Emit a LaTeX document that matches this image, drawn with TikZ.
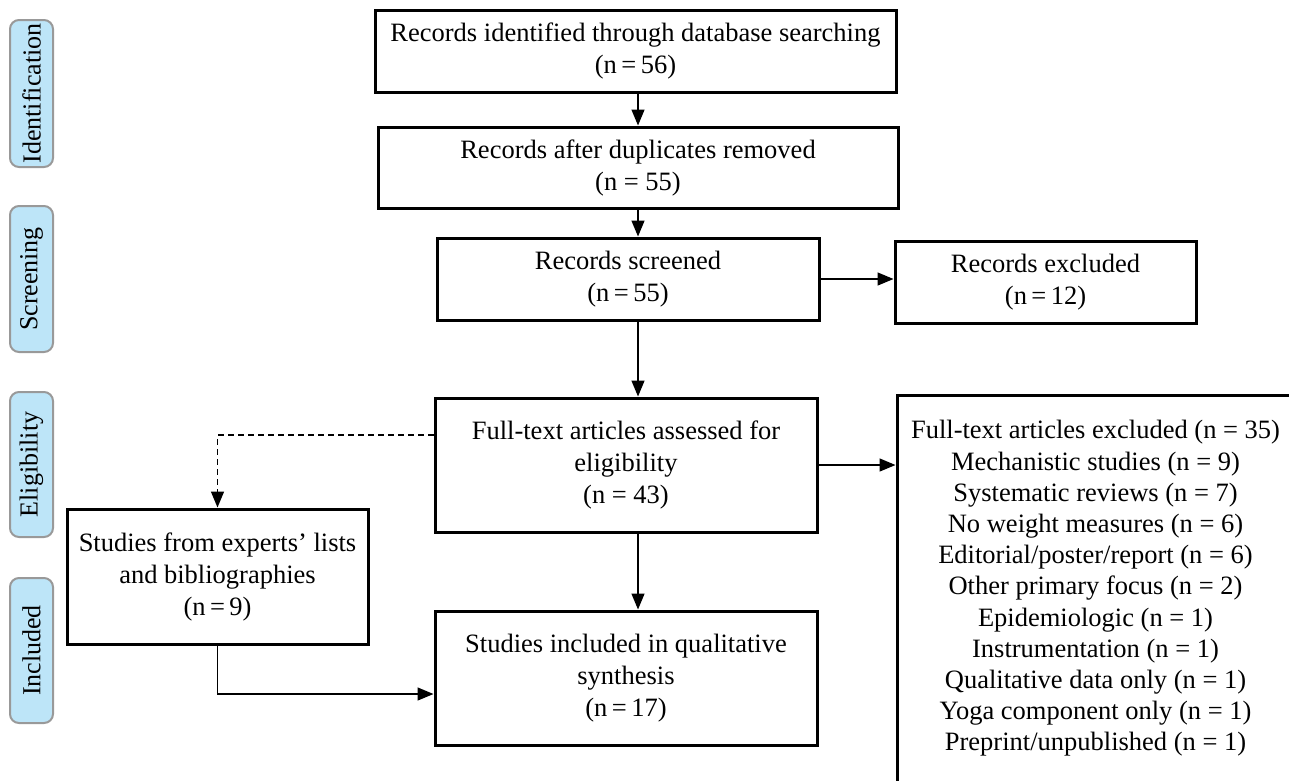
\documentclass[tikz,border=0pt]{standalone}
\usepackage{fontspec}
\setmainfont{Liberation Serif}
\usetikzlibrary{arrows.meta}
\definecolor{tagfill}{HTML}{BDE5F8}
\definecolor{tagline}{HTML}{999999}

\begin{document}
\begin{tikzpicture}[x=1pt,y=-1pt,
  box/.style={draw, line width=3pt, align=center, inner sep=0pt, font=\fontsize{26.5}{32}\selectfont},
  tag/.style={draw=tagline, fill=tagfill, line width=2pt, rounded corners=9pt, rotate=90, inner sep=0pt, minimum height=43pt, font=\fontsize{26}{30}\selectfont},
  link/.style={line width=1.4pt, -{Triangle[length=16pt,width=13pt]}}]
\clip (0,0) rectangle (1289,780);
% stage tags
\node[tag, minimum width=147pt] (tid) at (31.5,93.5) {Identification};
\node[tag, minimum width=146pt] (tscr) at (31.5,279) {Screening};
\node[tag, minimum width=145pt] (telig) at (31.5,464.5) {Eligibility};
\node[tag, minimum width=145pt] (tincl) at (31.5,650.5) {Included};
% boxes
\node[box, minimum width=521pt, minimum height=82pt] (id) at (635.5,51) {Records identified through database searching\\(n\,=\,56)};
\node[box, minimum width=520pt, minimum height=81pt] (dup) at (638,167.5) {Records after duplicates removed\\(n = 55)};
\node[box, minimum width=382pt, minimum height=82pt] (scr) at (628,279) {Records screened\\(n\,=\,55)};
\node[box, minimum width=301pt, minimum height=82pt] (recex) at (1045.5,282) {Records excluded\\(n\,=\,12)};
\node[box, minimum width=382pt, minimum height=134pt] (full) at (626,465) {Full-text articles assessed for\\eligibility\\(n = 43)};
\node[box, minimum width=382pt, minimum height=134pt] (incl) at (626,678) {Studies included in qualitative\\synthesis\\(n\,=\,17)};
\node[box, minimum width=301pt, minimum height=135pt] (expert) at (217.5,576.5) {Studies from experts' lists\\and bibliographies\\(n\,=\,9)};
\node[box, minimum width=397pt, minimum height=387pt, font=\fontsize{26.5}{31.2}\selectfont] (ftex) at (1095.5,588.5) {Full-text articles excluded (n = 35)\\Mechanistic studies (n = 9)\\Systematic reviews (n = 7)\\No weight measures (n = 6)\\Editorial/poster/report (n = 6)\\Other primary focus (n = 2)\\Epidemiologic (n = 1)\\Instrumentation (n = 1)\\Qualitative data only (n = 1)\\Yoga component only (n = 1)\\Preprint/unpublished (n = 1)};
% connectors
\draw[link] (dup.north |- id.south) -- (dup.north);
\draw[link] (dup.south) -- (dup.south |- scr.north);
\draw[link] (scr.east) -- (scr.east -| recex.west);
\draw[link] (dup.south |- scr.south) -- (dup.south |- full.north);
\draw[link] (dup.south |- full.south) -- (dup.south |- incl.north);
\draw[link] (full.east) -- (full.east -| ftex.west);
\draw[link, dashed, dash pattern=on 6pt off 4pt] ([yshift=30pt]full.west) -| (expert.north);
\draw[link] (expert.south) |- ([yshift=-16pt]incl.west);
\end{tikzpicture}
\end{document}
